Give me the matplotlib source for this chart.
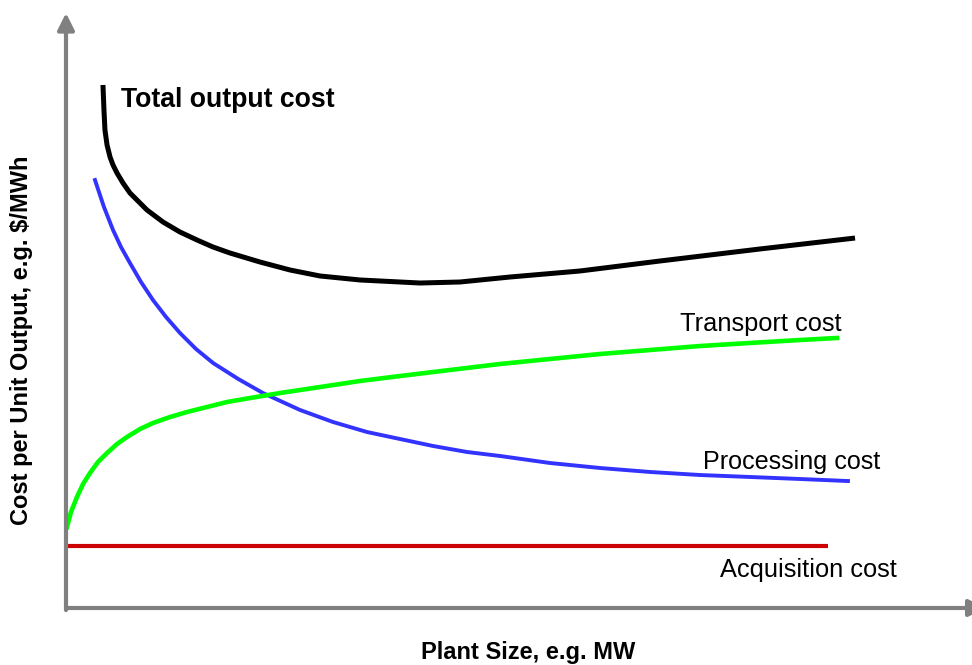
import matplotlib.pyplot as plt
import numpy as np

plt.rcParams['font.family'] = ['Liberation Sans', 'DejaVu Sans']

# Valores (unidades arbitrarias: x = tamano de planta, y = coste)
x_total = [4.08, 4.19, 4.30, 4.53, 4.86, 5.19, 5.63, 6.29, 7.06, 8.94, 10.71, 12.58, 14.46,
           16.23, 18.10, 21.41, 24.72, 28.04, 32.45, 39.07, 43.49, 49.01, 56.73, 65.56, 76.60, 87.09]
y_total = [87.90, 83.70, 80.34, 77.82, 75.80, 74.45, 73.11, 71.43, 69.75, 66.89, 64.87, 63.19,
           61.85, 60.67, 59.66, 58.15, 56.81, 55.80, 55.13, 54.62, 54.79, 55.63, 56.64, 58.32,
           60.34, 62.18]

x_proc = [3.20, 4.19, 5.19, 6.07, 7.06, 8.28, 9.60, 11.04, 12.58, 14.35, 16.23, 19.00, 21.74,
          25.83, 29.47, 33.22, 36.87, 40.51, 44.26, 47.90, 53.42, 58.94, 64.46, 69.98, 75.50,
          81.02, 86.31]
y_proc = [71.93, 67.39, 63.53, 60.67, 57.98, 54.79, 51.76, 48.91, 46.22, 43.53, 41.18, 38.50,
          36.13, 33.28, 31.26, 29.58, 28.40, 27.23, 26.22, 25.55, 24.37, 23.53, 22.86, 22.35,
          22.02, 21.68, 21.34]

x_trans = [0.11, 0.55, 1.21, 1.88, 2.65, 3.53, 4.53, 5.63, 6.73, 8.17, 9.60, 11.48, 13.36,
           15.56, 17.77, 20.31, 23.62, 28.04, 32.45, 36.87, 42.38, 47.90, 53.42, 58.94, 64.46,
           69.98, 75.50, 81.02, 85.10]
y_trans = [13.61, 16.13, 18.66, 20.84, 22.69, 24.54, 26.05, 27.56, 28.74, 30.08, 31.09, 32.10,
           32.94, 33.78, 34.62, 35.29, 36.13, 37.14, 38.15, 38.99, 40.00, 41.01, 41.85, 42.69,
           43.36, 44.03, 44.54, 45.04, 45.38]

x_acq = [0.1, 84.1]
y_acq = [10.42, 10.42]

fig = plt.figure(figsize=(9.72, 6.65), dpi=100)
ax = fig.add_axes([66 / 972, 57 / 665, 906 / 972, 595 / 665])
ax.set_xlim(0, 100)
ax.set_ylim(0, 100)
ax.axis('off')

# Ejes con flechas
gris = '#808080'
estilo = '-|>,head_length=1.0,head_width=0.5'
ax.annotate('', xy=(0, 100), xytext=(0, -0.35), annotation_clip=False,
            arrowprops=dict(arrowstyle=estilo, color=gris, lw=3, shrinkA=0, shrinkB=0))
ax.annotate('', xy=(101.5, 0), xytext=(0, 0), annotation_clip=False,
            arrowprops=dict(arrowstyle=estilo, color=gris, lw=3, shrinkA=0, shrinkB=0))

ax.plot(x_total, y_total, color='black', lw=3.6, solid_capstyle='butt', solid_joinstyle='round')
ax.plot(x_proc, y_proc, color='#3333ff', lw=2.8, solid_joinstyle='round')
ax.plot(x_trans, y_trans, color='#00ff00', lw=3.3, solid_joinstyle='round')
ax.plot(x_acq, y_acq, color='#cc0000', lw=3, solid_capstyle='butt')

ax.text(6.1, 85.3, 'Total output cost', fontsize=19.2, fontweight='bold', va='center')
ax.text(67.8, 47.8, 'Transport cost', fontsize=18.3, va='center')
ax.text(70.3, 24.6, 'Processing cost', fontsize=18.1, va='center')
ax.text(72.2, 6.4, 'Acquisition cost', fontsize=18.3, va='center')

fig.text(528 / 972, 1 - 652 / 665, 'Plant Size, e.g. MW', fontsize=17, fontweight='bold',
         ha='center', va='center')
fig.text(22 / 972, 1 - 340 / 665, 'Cost per Unit Output, e.g. $/MWh', fontsize=17, fontweight='bold',
         ha='center', va='center', rotation=90)

fig.savefig('out.png', dpi=100)
